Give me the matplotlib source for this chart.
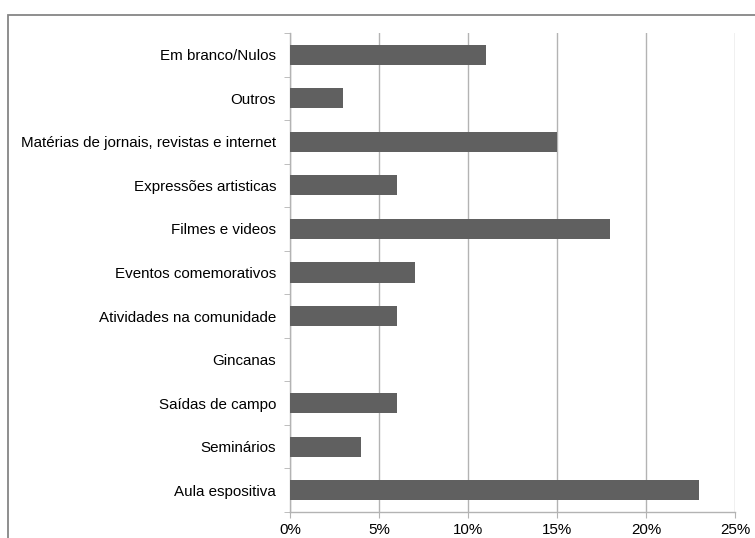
import matplotlib.pyplot as plt
from matplotlib.patches import Rectangle
from matplotlib.ticker import FixedLocator, FuncFormatter

categorias = [
    "Em branco/Nulos",
    "Outros",
    "Matérias de jornais, revistas e internet",
    "Expressões artisticas",
    "Filmes e videos",
    "Eventos comemorativos",
    "Atividades na comunidade",
    "Gincanas",
    "Saídas de campo",
    "Seminários",
    "Aula espositiva",
]
percentuais = [11, 3, 15, 6, 18, 7, 6, 0, 6, 4, 23]

barra_cor = "#606060"
grade_cor = "#b3b3b3"

plt.rcParams["font.family"] = ["Liberation Sans", "DejaVu Sans"]

fig = plt.figure(figsize=(7.55, 5.38), dpi=100)
ax = fig.add_axes([290 / 755, 1 - 512 / 538, 445 / 755, 479 / 538])

# moldura externa
fig.patches.append(Rectangle((8 / 755, -0.1), 1.2, 1.1 - 15 / 538,
                             transform=fig.transFigure, fill=False,
                             edgecolor="#868686", linewidth=1.3))

n = len(categorias)
pos = list(range(n))[::-1]
ax.barh(pos, percentuais, height=0.46, color=barra_cor, zorder=3)

ax.set_xlim(0, 25)
ax.set_ylim(-0.5, n - 0.5)
ax.set_xticks([0, 5, 10, 15, 20, 25])
ax.xaxis.set_major_formatter(FuncFormatter(lambda v, p: f"{int(v)}%"))
ax.grid(axis="x", color=grade_cor, linewidth=1, zorder=0)

ax.set_yticks(pos)
ax.set_yticklabels(categorias)
ax.yaxis.set_minor_locator(FixedLocator([i - 0.5 for i in range(n + 1)]))
ax.tick_params(axis="y", which="major", length=0, pad=10, labelsize=10.9)
ax.tick_params(axis="y", which="minor", length=4, color=grade_cor)
ax.tick_params(axis="x", length=4, color=grade_cor, labelsize=10.9, pad=4)

for lado in ["top", "right"]:
    ax.spines[lado].set_visible(False)
for lado in ["left", "bottom"]:
    ax.spines[lado].set_color(grade_cor)
    ax.spines[lado].set_linewidth(1)

fig.savefig("out.png", dpi=100)
